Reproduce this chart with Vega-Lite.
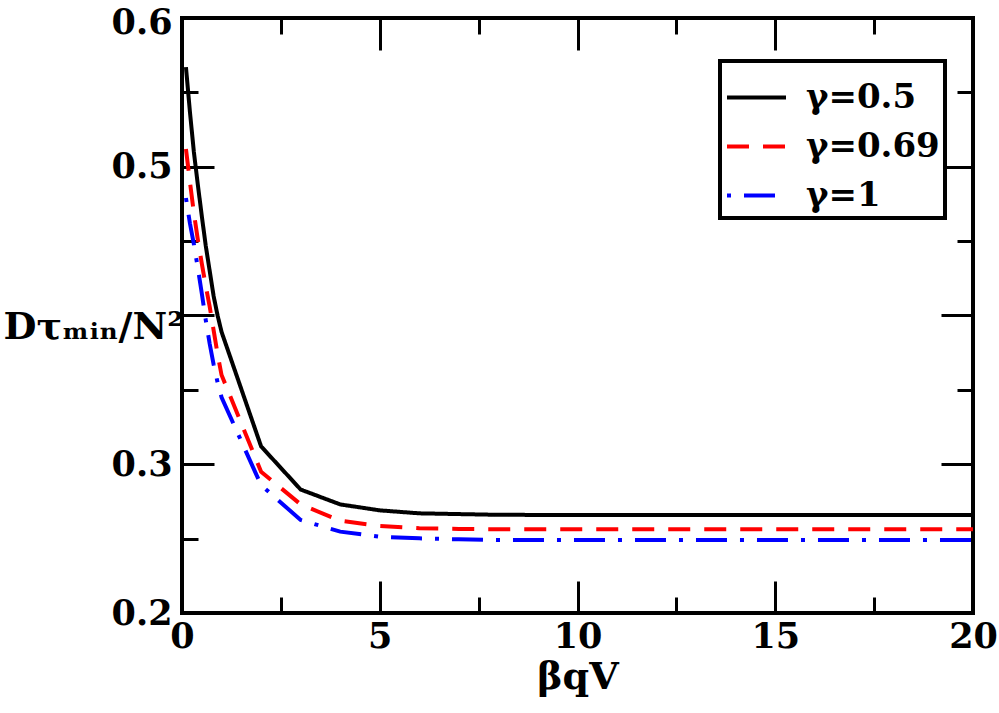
{
  "$schema": "https://vega.github.io/schema/vega-lite/v6.json",
  "autosize": {"type": "none"},
  "width": 791,
  "height": 595,
  "padding": {"left": 182, "top": 18, "right": 26, "bottom": 100},
  "background": "white",
  "config": {
    "view": {"stroke": "black", "strokeWidth": 4},
    "legend": {"strokeWidth": 4},
    "axis": {
      "labelFont": "DejaVu Serif",
      "labelFontWeight": "bold",
      "labelFontSize": 35,
      "labelColor": "black",
      "titleFont": "DejaVu Serif",
      "titleFontWeight": "bold",
      "titleFontSize": 38,
      "titleColor": "black",
      "grid": false,
      "domain": false,
      "tickColor": "black",
      "tickWidth": 3
    }
  },
  "data": {
    "values": [
      {"x": 0.1, "y": 0.567, "g": "γ=0.5"},
      {"x": 0.2, "y": 0.537, "g": "γ=0.5"},
      {"x": 0.3, "y": 0.51, "g": "γ=0.5"},
      {"x": 0.4, "y": 0.488, "g": "γ=0.5"},
      {"x": 0.5, "y": 0.467, "g": "γ=0.5"},
      {"x": 0.6, "y": 0.447, "g": "γ=0.5"},
      {"x": 0.7, "y": 0.43, "g": "γ=0.5"},
      {"x": 0.8, "y": 0.413, "g": "γ=0.5"},
      {"x": 0.9, "y": 0.4, "g": "γ=0.5"},
      {"x": 1, "y": 0.389, "g": "γ=0.5"},
      {"x": 2, "y": 0.312, "g": "γ=0.5"},
      {"x": 3, "y": 0.283, "g": "γ=0.5"},
      {"x": 4, "y": 0.273, "g": "γ=0.5"},
      {"x": 5, "y": 0.269, "g": "γ=0.5"},
      {"x": 6, "y": 0.267, "g": "γ=0.5"},
      {"x": 7, "y": 0.2665, "g": "γ=0.5"},
      {"x": 8, "y": 0.266, "g": "γ=0.5"},
      {"x": 10, "y": 0.2659, "g": "γ=0.5"},
      {"x": 15, "y": 0.2659, "g": "γ=0.5"},
      {"x": 20, "y": 0.2659, "g": "γ=0.5"},
      {"x": 0.1, "y": 0.512, "g": "γ=0.69"},
      {"x": 0.2, "y": 0.49, "g": "γ=0.69"},
      {"x": 0.3, "y": 0.469, "g": "γ=0.69"},
      {"x": 0.4, "y": 0.451, "g": "γ=0.69"},
      {"x": 0.5, "y": 0.435, "g": "γ=0.69"},
      {"x": 0.6, "y": 0.42, "g": "γ=0.69"},
      {"x": 0.7, "y": 0.406, "g": "γ=0.69"},
      {"x": 0.8, "y": 0.39, "g": "γ=0.69"},
      {"x": 0.9, "y": 0.374, "g": "γ=0.69"},
      {"x": 1, "y": 0.36, "g": "γ=0.69"},
      {"x": 2, "y": 0.295, "g": "γ=0.69"},
      {"x": 3, "y": 0.273, "g": "γ=0.69"},
      {"x": 4, "y": 0.262, "g": "γ=0.69"},
      {"x": 5, "y": 0.2585, "g": "γ=0.69"},
      {"x": 6, "y": 0.257, "g": "γ=0.69"},
      {"x": 7, "y": 0.2565, "g": "γ=0.69"},
      {"x": 8, "y": 0.2563, "g": "γ=0.69"},
      {"x": 10, "y": 0.2563, "g": "γ=0.69"},
      {"x": 15, "y": 0.2563, "g": "γ=0.69"},
      {"x": 20, "y": 0.2563, "g": "γ=0.69"},
      {"x": 0.1, "y": 0.479, "g": "γ=1"},
      {"x": 0.2, "y": 0.462, "g": "γ=1"},
      {"x": 0.3, "y": 0.448, "g": "γ=1"},
      {"x": 0.4, "y": 0.432, "g": "γ=1"},
      {"x": 0.5, "y": 0.415, "g": "γ=1"},
      {"x": 0.6, "y": 0.397, "g": "γ=1"},
      {"x": 0.7, "y": 0.381, "g": "γ=1"},
      {"x": 0.8, "y": 0.367, "g": "γ=1"},
      {"x": 0.9, "y": 0.355, "g": "γ=1"},
      {"x": 1, "y": 0.345, "g": "γ=1"},
      {"x": 2, "y": 0.286, "g": "γ=1"},
      {"x": 3, "y": 0.2625, "g": "γ=1"},
      {"x": 4, "y": 0.2547, "g": "γ=1"},
      {"x": 5, "y": 0.2513, "g": "γ=1"},
      {"x": 6, "y": 0.2502, "g": "γ=1"},
      {"x": 7, "y": 0.2495, "g": "γ=1"},
      {"x": 8, "y": 0.2491, "g": "γ=1"},
      {"x": 10, "y": 0.2491, "g": "γ=1"},
      {"x": 15, "y": 0.2491, "g": "γ=1"},
      {"x": 20, "y": 0.2491, "g": "γ=1"}
    ]
  },
  "resolve": {"axis": {"x": "independent", "y": "independent"}},
  "layer": [
    {
      "mark": {"type": "line", "strokeWidth": 4, "clip": true},
      "encoding": {
        "x": {
          "field": "x", "type": "quantitative",
          "scale": {"domain": [0, 20], "nice": false, "zero": false},
          "axis": {
            "orient": "bottom",
            "title": "βqV",
            "titlePadding": 4,
            "values": [0, 2.5, 5, 7.5, 10, 12.5, 15, 17.5, 20],
            "labelExpr": "datum.value % 5 === 0 ? format(datum.value, 'd') : ''",
            "tickSize": {"condition": {"test": "datum.value % 5 !== 0", "value": -16}, "value": -32},
            "labelPadding": 38,
            "labelFlush": false
          }
        },
        "y": {
          "field": "y", "type": "quantitative",
          "scale": {"domain": [0.2, 0.6], "nice": false, "zero": false},
          "axis": {
            "orient": "left",
            "title": "Dτₘᵢₙ/N²",
            "titleAngle": 0,
            "titleAlign": "left",
            "titleBaseline": "alphabetic",
            "titleX": -179,
            "titleY": 320,
            "values": [0.2, 0.25, 0.3, 0.35, 0.4, 0.45, 0.5, 0.55, 0.6],
            "labelExpr": "(abs(datum.value*10 - round(datum.value*10)) < 0.01 && abs(datum.value - 0.4) > 0.01) ? format(datum.value, '.1f') : ''",
            "tickSize": {"condition": {"test": "abs(datum.value*10 - round(datum.value*10)) > 0.01", "value": -16}, "value": -32},
            "labelOffset": {"condition": {"test": "datum.value > 0.59", "value": 4}, "value": 0},
            "labelPadding": 42,
            "labelFlush": false
          }
        },
        "color": {
          "field": "g", "type": "nominal",
          "scale": {"domain": ["γ=0.5", "γ=0.69", "γ=1"], "range": ["#000000", "#ff0000", "#0000ff"]},
          "legend": {
            "title": null,
            "orient": "none",
            "legendX": 538,
            "legendY": 43,
            "strokeColor": "black",
            "fillColor": "white",
            "padding": 5,
            "symbolType": "stroke",
            "symbolSize": 3481,
            "symbolStrokeWidth": 4,
            "labelFont": "DejaVu Serif",
            "labelFontWeight": "bold",
            "labelFontSize": 34,
            "labelColor": "black",
            "labelOffset": 18,
            "rowPadding": -3
          }
        },
        "strokeDash": {
          "field": "g", "type": "nominal",
          "scale": {"domain": ["γ=0.5", "γ=0.69", "γ=1"], "range": [[1, 0], [22, 14], [4, 13, 31, 13]]},
          "legend": {
            "title": null,
            "orient": "none",
            "legendX": 538,
            "legendY": 43
          }
        }
      }
    },
    {
      "mark": {"type": "line", "opacity": 0},
      "encoding": {
        "x": {
          "field": "x", "type": "quantitative",
          "scale": {"domain": [0, 20], "nice": false, "zero": false},
          "axis": {
            "orient": "top",
            "title": null,
            "values": [0, 2.5, 5, 7.5, 10, 12.5, 15, 17.5, 20],
            "labels": false,
            "tickSize": {"condition": {"test": "datum.value % 5 !== 0", "value": -16}, "value": -32}
          }
        },
        "y": {
          "field": "y", "type": "quantitative",
          "scale": {"domain": [0.2, 0.6], "nice": false, "zero": false},
          "axis": {
            "orient": "right",
            "title": null,
            "values": [0.2, 0.25, 0.3, 0.35, 0.4, 0.45, 0.5, 0.55, 0.6],
            "labels": false,
            "tickSize": {"condition": {"test": "abs(datum.value*10 - round(datum.value*10)) > 0.01", "value": -16}, "value": -32}
          }
        }
      }
    }
  ]
}
